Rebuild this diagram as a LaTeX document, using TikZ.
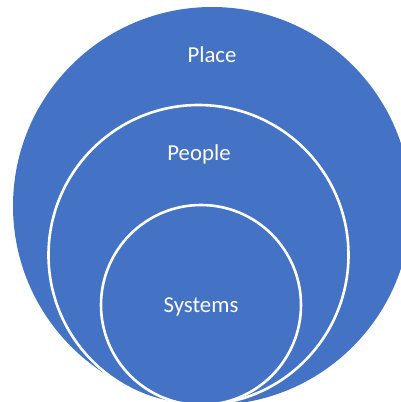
\documentclass[tikz,border=0pt]{standalone}
\usepackage{fontspec}
\setmainfont{Carlito}
\definecolor{officeblue}{HTML}{4472C4}
\tikzset{
  ring/.style={draw=white, line width=2.6pt, fill=officeblue},
  lbl/.style={text=white, font=\fontsize{22.8pt}{26pt}\selectfont, anchor=base, inner sep=0pt}
}
\begin{document}
\begin{tikzpicture}[x=1pt,y=-1pt]
\useasboundingbox (0,0) rectangle (401,402);
\clip (0,0) rectangle (401,402);
\fill[white] (0,0) rectangle (401,402);
\node[circle, fill=officeblue, minimum size=398pt, inner sep=0pt] (place) at (212,206) {};
\node[circle, ring, minimum size=300pt, inner sep=0pt] (people) at (198.5,255) {};
\node[circle, ring, minimum size=200pt, inner sep=0pt] (systems) at (201,305) {};
\node[lbl] (tplace) at (212,62) {Place};
\node[lbl] (tpeople) at (199,160) {People};
\node[lbl] (tsystems) at (201,312) {Systems};
\end{tikzpicture}
\end{document}
